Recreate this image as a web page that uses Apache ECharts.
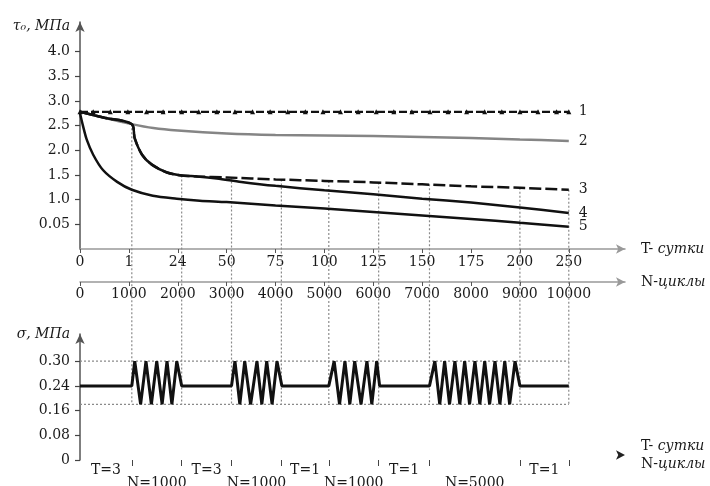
<!DOCTYPE html>
<html><head><meta charset="utf-8">
<script src="https://cdn.jsdelivr.net/npm/echarts@6/dist/echarts.min.js"></script>
<style>html,body{margin:0;padding:0;background:#fff}#c{width:710px;height:486px}</style>
</head><body><div id="c"></div>
<script>
// ---------------- data ----------------
const nTicks = [0,1000,2000,3000,4000,5000,6000,7000,8000,9000,10000];
const tTickLabels = ['0','1','24','50','75','100','125','150','175','200','250'];
const nTickLabels = ['0','1000','2000','3000','4000','5000','6000','7000','8000','9000','10000'];
const tauTickValues = [0.5,1,1.5,2,2.5,3,3.5,4];
const tauTickLabels = ['0.05','1.0','1.5','2.0','2.5','3.0','3.5','4.0'];

const curve1N = [0,270,620,980,1360,1700,2080,2430,2800,3170,3530,3890,4250,4610,4970,5330,5690,6060,6420,6790,7160,7530,7910,8280,8630,9000,9370,9750,10000];
const curve1Tau = 2.78;

const curve2N   = [0,500,1060,1500,2000,3000,4000,5000,6000,7000,8000,9000,10000];
const curve2Tau = [2.78,2.66,2.53,2.45,2.40,2.34,2.31,2.30,2.29,2.27,2.25,2.22,2.19];

const curve3N   = [0,500,1060,1120,1270,1470,1780,2080,2400,3000,4000,5000,6000,7000,8000,9000,10000];
const curve3Tau = [2.78,2.66,2.53,2.24,1.91,1.71,1.55,1.49,1.47,1.45,1.41,1.38,1.35,1.31,1.27,1.24,1.20];

const curve4N   = [0,500,1060,1120,1270,1470,1780,2080,2400,2800,3300,4000,5000,6000,7000,8000,9000,10000];
const curve4Tau = [2.78,2.66,2.53,2.24,1.91,1.71,1.55,1.49,1.47,1.43,1.36,1.28,1.19,1.11,1.02,0.94,0.84,0.73];

const curve5N   = [0,60,140,270,470,760,1060,1490,1980,2450,3000,4000,5000,6000,7000,8000,9000,10000];
const curve5Tau = [2.75,2.50,2.21,1.91,1.60,1.36,1.20,1.08,1.02,0.98,0.95,0.88,0.82,0.75,0.68,0.61,0.53,0.45];

// vertical dotted guides: position and the curve value where they start
const dropN   = [1060,2080,3100,4120,5090,6110,7150,9000,10000];
const dropTau = [2.53,1.49,1.45,1.41,1.38,1.35,1.31,1.24,1.20];

// lower chart: loading regime sigma
const sigmaTickValues = [0,0.08,0.16,0.24,0.30];
const sigmaTickLabels = ['0','0.08','0.16','0.24','0.30'];
const sigmaHigh = 0.30, sigmaLow = 0.18;
const sigmaN = [0,1060,
  1120,1240,1350,1460,1570,1680,1780,1880,1980,2080,
  3100,3170,3270,3370,3490,3620,3720,3820,3930,4030,4130,
  5090,5200,5310,5420,5520,5620,5750,5870,5970,6070,6130,
  7150,7260,7360,7460,7560,7670,7770,7870,7970,8080,8180,8280,8380,8490,8590,8690,8790,8900,9000,
  10000];
const sigmaV = [0.24,0.24,
  0.30,0.18,0.30,0.18,0.30,0.18,0.30,0.18,0.30,0.24,
  0.24,0.30,0.18,0.30,0.18,0.30,0.18,0.30,0.18,0.30,0.24,
  0.24,0.30,0.18,0.30,0.18,0.30,0.18,0.30,0.18,0.30,0.24,
  0.24,0.30,0.18,0.30,0.18,0.30,0.18,0.30,0.18,0.30,0.18,0.30,0.18,0.30,0.18,0.30,0.18,0.30,0.24,
  0.24];
const segBounds = [0,1060,2080,3100,4120,5090,6110,7150,9000,10000];
const segLabelT = ['T=3','','T=3','','T=1','','T=1','','T=1'];
const segLabelN = ['','N=1000','','N=1000','','N=1000','','N=5000',''];

// ---------------- layout ----------------
const H = 486;
const G1 = {left:80, right:85, top:22, bottom:237};
const G2 = {left:80, right:85, top:334, bottom:26};
const xMax = 11150, tauMax = 4.6, levelMax = 5.1;
const FONT = "'DejaVu Serif','Liberation Serif',serif";
const FS = 14;
const TXT = '#1a1a1a';

function sigLevel(v){
  for (let i=0;i<sigmaTickValues.length-1;i++){
    const a=sigmaTickValues[i], b=sigmaTickValues[i+1];
    if (v<=b) return i + (v-a)/(b-a);
  }
  return sigmaTickValues.length-1;
}
const px1 = (H-G1.top-G1.bottom)/tauMax, y0top = H-G1.bottom;
const px2 = (H-G2.top-G2.bottom)/levelMax, y0bot = H-G2.bottom;
const dropEnd = -((y0bot - sigLevel(sigmaLow)*px2) - y0top)/px1;

const dropData = [];
dropN.forEach((n,i)=>{ dropData.push([n,dropTau[i]],[n,dropEnd],[n,'-']); });
const hLineData = [[0,sigLevel(sigmaHigh)],[nTicks[nTicks.length-1],sigLevel(sigmaHigh)],[0,'-'],
                   [0,sigLevel(sigmaLow)],[nTicks[nTicks.length-1],sigLevel(sigmaLow)]];
const segMids = segBounds.slice(0,-1).map((b,i)=>(b+segBounds[i+1])/2);

const zip = (xs,ys)=>xs.map((x,i)=>[x,ys[i]]);
const endLbl = t => ({show:true, formatter:t, distance:10, fontSize:FS, fontFamily:FONT, color:TXT});
const richName = {a:{fontFamily:FONT,fontSize:FS,color:TXT}, b:{fontFamily:FONT,fontSize:FS,fontStyle:'italic',color:TXT}};
const lbl = {fontFamily:FONT, fontSize:FS, color:TXT};

const option = {
  animation:false,
  backgroundColor:'#fff',
  grid:[
    {left:G1.left, right:G1.right, top:G1.top, bottom:G1.bottom, containLabel:false, outerBoundsMode:'none'},
    {left:G2.left, right:G2.right, top:G2.top, bottom:G2.bottom, containLabel:false, outerBoundsMode:'none'}
  ],
  xAxis:[
    {gridIndex:0, type:'value', min:0, max:xMax, position:'bottom',
     axisLine:{show:true, symbol:['none','arrow'], symbolSize:[7,9], lineStyle:{color:'#999', width:1.5}},
     axisTick:{show:true, customValues:nTicks, length:4, lineStyle:{color:'#555'}},
     axisLabel:Object.assign({customValues:nTicks, formatter:v=>tTickLabels[nTicks.indexOf(v)], margin:6}, lbl),
     splitLine:{show:false},
     name:'{a|T- }{b|сутки}', nameLocation:'end', nameGap:16, nameTextStyle:{rich:richName, verticalAlign:'middle'}},
    {gridIndex:0, type:'value', min:0, max:xMax, position:'bottom', offset:33,
     axisLine:{show:true, symbol:['none','arrow'], symbolSize:[7,9], lineStyle:{color:'#999', width:1.5}},
     axisTick:{show:true, customValues:nTicks, length:4, lineStyle:{color:'#555'}},
     axisLabel:Object.assign({customValues:nTicks, formatter:v=>nTickLabels[nTicks.indexOf(v)], margin:5}, lbl),
     splitLine:{show:false},
     name:'{a|N-}{b|циклы}', nameLocation:'end', nameGap:16, nameTextStyle:{rich:richName, verticalAlign:'middle'}},
    {gridIndex:1, type:'value', min:0, max:xMax, position:'bottom',
     axisLine:{show:false},
     axisTick:{show:true, customValues:segBounds.slice(1), length:6, lineStyle:{color:'#444'}},
     axisLabel:Object.assign({customValues:segMids, formatter:v=>segLabelT[segMids.indexOf(v)], margin:3}, lbl),
     splitLine:{show:false}},
    {gridIndex:1, type:'value', min:0, max:xMax, position:'bottom',
     axisLine:{show:false}, axisTick:{show:false},
     axisLabel:Object.assign({customValues:segMids, formatter:v=>segLabelN[segMids.indexOf(v)], margin:16}, lbl),
     splitLine:{show:false}},
    {gridIndex:1, type:'value', min:0, max:xMax, position:'bottom', offset:-5,
     axisLine:{show:true, symbol:['none','arrow'], symbolSize:[7,9], lineStyle:{color:'#222', width:0}},
     axisTick:{show:false}, axisLabel:{show:false}, splitLine:{show:false},
     name:'{a|T- }{b|сутки}\n{a|N-}{b|циклы}', nameLocation:'end', nameGap:16,
     nameTextStyle:{rich:{a:{fontFamily:FONT,fontSize:FS,color:TXT,lineHeight:18}, b:{fontFamily:FONT,fontSize:FS,fontStyle:'italic',color:TXT,lineHeight:18}}, verticalAlign:'middle'}}
  ],
  yAxis:[
    {gridIndex:0, type:'value', min:0, max:tauMax,
     axisLine:{show:true, symbol:['none','arrow'], symbolSize:[7,10], lineStyle:{color:'#555', width:1.5}},
     axisTick:{show:true, customValues:tauTickValues, length:5, lineStyle:{color:'#444', width:1.2}},
     axisLabel:Object.assign({customValues:tauTickValues, formatter:v=>tauTickLabels[tauTickValues.indexOf(v)], margin:10}, lbl),
     splitLine:{show:false},
     name:'{a|τ₀, МПа}', nameLocation:'end', nameGap:-4,
     nameTextStyle:{rich:{a:{fontFamily:FONT,fontSize:14,fontStyle:'italic',color:TXT}}, align:'right', verticalAlign:'middle', padding:[0,10,0,0]}},
    {gridIndex:1, type:'value', min:0, max:levelMax,
     axisLine:{show:true, symbol:['none','arrow'], symbolSize:[7,10], lineStyle:{color:'#555', width:1.5}},
     axisTick:{show:true, customValues:sigmaTickValues.map(sigLevel), length:5, lineStyle:{color:'#444', width:1.2}},
     axisLabel:Object.assign({customValues:sigmaTickValues.map(sigLevel), formatter:v=>sigmaTickLabels[Math.round(v)], margin:10}, lbl),
     splitLine:{show:false},
     name:'{a|σ, МПа}', nameLocation:'end', nameGap:0,
     nameTextStyle:{rich:{a:{fontFamily:FONT,fontSize:14,fontStyle:'italic',color:TXT}}, align:'right', verticalAlign:'middle', padding:[0,10,0,0]}}
  ],
  series:[
    {type:'line', xAxisIndex:0, yAxisIndex:0, data:dropData, clip:false, symbol:'none', connectNulls:false,
     lineStyle:{color:'#8a8a8a', width:1.2, type:[2,2]}, z:1, silent:true},
    {type:'line', xAxisIndex:0, yAxisIndex:0, data:curve1N.map(n=>[n,curve1Tau]),
     symbol:'triangle', symbolSize:5, itemStyle:{color:'#111'},
     lineStyle:{color:'#111', width:2.2, type:[8,3]}, endLabel:endLbl('1'), z:5},
    {type:'line', xAxisIndex:0, yAxisIndex:0, data:zip(curve2N,curve2Tau), symbol:'none', smooth:0.3,
     lineStyle:{color:'#858585', width:2.5}, endLabel:endLbl('2'), z:3},
    {type:'line', xAxisIndex:0, yAxisIndex:0, data:zip(curve3N,curve3Tau), symbol:'none', smooth:0.3,
     lineStyle:{color:'#111', width:2.5, type:[12,4]}, endLabel:endLbl('3'), z:4},
    {type:'line', xAxisIndex:0, yAxisIndex:0, data:zip(curve4N,curve4Tau), symbol:'none', smooth:0.3,
     lineStyle:{color:'#111', width:2.5}, endLabel:endLbl('4'), z:4},
    {type:'line', xAxisIndex:0, yAxisIndex:0, data:zip(curve5N,curve5Tau), symbol:'none', smooth:0.3,
     lineStyle:{color:'#111', width:2.5}, endLabel:endLbl('5'), z:4},
    {type:'line', xAxisIndex:2, yAxisIndex:1, data:hLineData, symbol:'none', connectNulls:false,
     lineStyle:{color:'#8a8a8a', width:1.2, type:[2,2]}, z:1, silent:true},
    {type:'line', xAxisIndex:2, yAxisIndex:1, data:sigmaN.map((n,i)=>[n,sigLevel(sigmaV[i])]), symbol:'none',
     lineStyle:{color:'#111', width:3}, z:4}
  ]
};
const chart = echarts.init(document.getElementById('c'));
chart.setOption(option);
</script></body></html>
